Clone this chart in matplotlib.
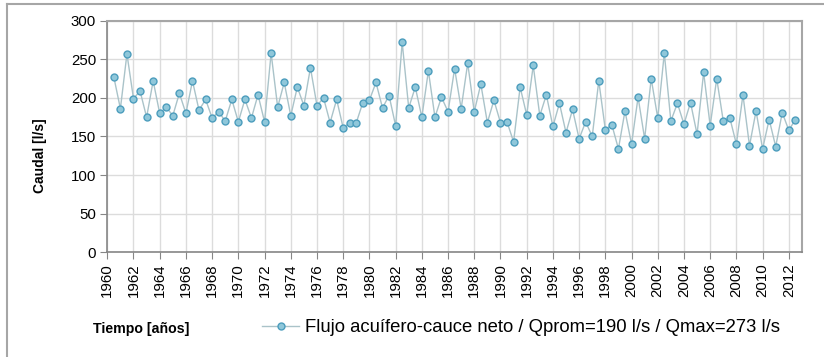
import numpy as np
import matplotlib
matplotlib.use('Agg')
import matplotlib.pyplot as plt
from matplotlib.lines import Line2D

plt.rcParams['font.family'] = ['Liberation Sans', 'DejaVu Sans']

# caudal semestral, desde 1960.5 cada medio año
anio_inicio = 1960.5
paso = 0.5
caudal = [
    227, 186, 257, 199, 209, 175, 222, 180, 188, 177,
    206, 180, 222, 184, 198, 174, 182, 170, 198, 169,
    198, 174, 204, 169, 258, 188, 220, 177, 214, 190,
    239, 190, 200, 168, 198, 161, 168, 168, 194, 197,
    220, 187, 203, 164, 272, 187, 214, 175, 235, 175,
    201, 182, 238, 186, 245, 182, 218, 168, 197, 168,
    169, 143, 214, 178, 242, 177, 204, 163, 193, 155,
    185, 147, 169, 150, 222, 159, 165, 134, 183, 140,
    201, 147, 225, 174, 258, 170, 193, 166, 194, 153,
    233, 164, 225, 170, 174, 140, 204, 138, 183, 134,
    172, 137, 181, 158, 172,
]
anios = anio_inicio + paso * np.arange(len(caudal))

etiqueta_serie = 'Flujo acuífero-cauce neto / Qprom=190 l/s / Qmax=273 l/s'
ticks_x = list(range(1960, 2013, 2))
ticks_y = [0, 50, 100, 150, 200, 250, 300]

fig = plt.figure(figsize=(8.24, 3.57), dpi=100)
ax = fig.add_axes([0.1302, 0.2933, 0.843, 0.6487])

linea, = ax.plot(anios, caudal, color='#aac3c9', linewidth=1.0,
                 marker='o', markersize=5, markerfacecolor='#8fc7da',
                 markeredgecolor='#4c9dbd', markeredgewidth=1.0,
                 label=etiqueta_serie)

ax.set_xlim(1960, 2013)
ax.set_ylim(0, 300)
ax.set_xticks(ticks_x)
ax.set_xticklabels([str(t) for t in ticks_x], rotation=90, fontsize=10.8)
ax.set_yticks(ticks_y)
ax.set_yticklabels([str(t) for t in ticks_y], fontsize=10.8)
ax.grid(True, color='#dcdcdc', linewidth=1.0)
ax.set_axisbelow(True)
ax.tick_params(axis='both', direction='out', length=5, color='#868686', pad=3)

for lado in ['top', 'right']:
    ax.spines[lado].set_color('#a6a6a6')
    ax.spines[lado].set_linewidth(1.5)
for lado in ['left', 'bottom']:
    ax.spines[lado].set_color('#868686')
    ax.spines[lado].set_linewidth(1.2)

fig.text(40 / 824, 1 - 156 / 357, 'Caudal [l/s]', rotation=90, fontsize=10,
         fontweight='bold', ha='center', va='center')
fig.text(93 / 824, 1 - 329 / 357, 'Tiempo [años]', fontsize=10.2,
         fontweight='bold', ha='left', va='center')

fig.legend(handles=[linea], loc='center left', frameon=False,
           bbox_to_anchor=(255 / 824, 1 - 328 / 357), fontsize=13.3,
           handlelength=2.0, handletextpad=0.3, borderaxespad=0)

# borde del área del gráfico
fig.add_artist(Line2D([7 / 824, 1], [1 - 4 / 357, 1 - 4 / 357],
                      color='#a6a6a6', linewidth=1.5))
fig.add_artist(Line2D([7 / 824, 7 / 824], [0, 1 - 4 / 357],
                      color='#a6a6a6', linewidth=1.5))

fig.savefig('out.png', dpi=100)
